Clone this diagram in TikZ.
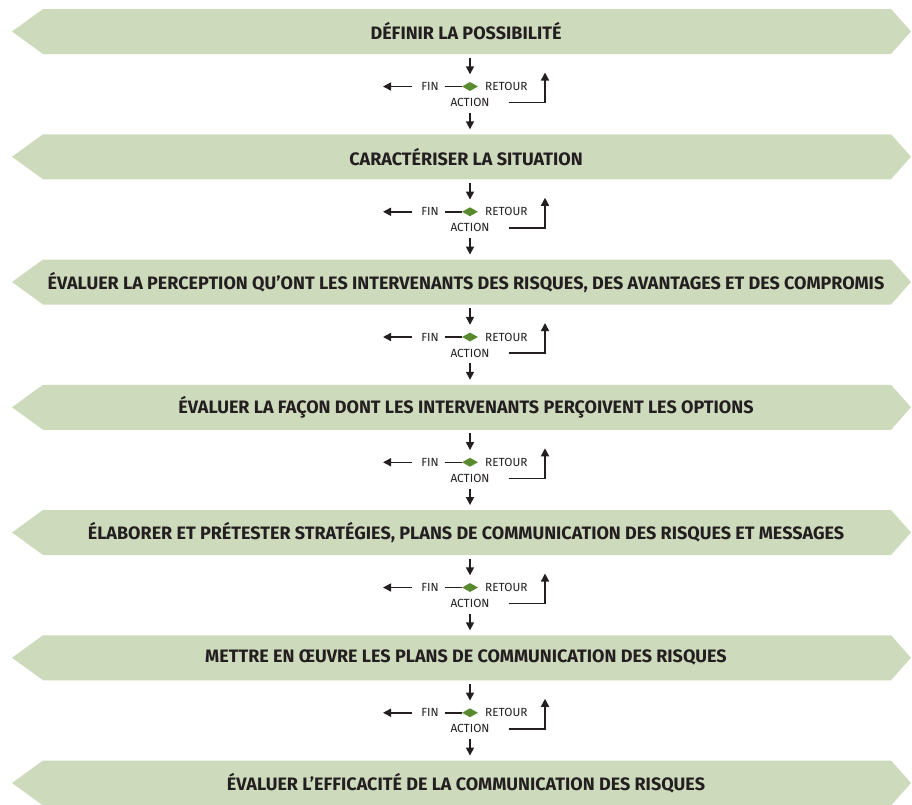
\documentclass[tikz,border=0pt]{standalone}
\usepackage{fontspec}
\setmainfont{Fira Sans}
\usetikzlibrary{arrows.meta,shapes.geometric,calc}
\definecolor{sage}{RGB}{205,218,188}
\definecolor{leaf}{RGB}{90,138,46}
\definecolor{ink}{RGB}{35,31,32}
\begin{document}
\begin{tikzpicture}[x=1pt,y=-1pt,
  banner/.style={fill=sage},
  title/.style={font=\bfseries\fontsize{18}{20}\selectfont, text=ink, inner sep=0pt, minimum height=45pt},
  lbl/.style={font=\fontsize{11.8}{13}\selectfont, text=ink, inner sep=0pt},
  dia/.style={diamond, fill=leaf, inner sep=0pt, minimum width=16pt, minimum height=9pt},
  arr/.style={draw=ink, line width=1.5pt, -{Triangle[length=8pt,width=8pt]}},
  ln/.style={draw=ink, line width=1.5pt}]
\useasboundingbox (0,0) rectangle (912,804);
\foreach \i/\t in {1/{DÉFINIR LA POSSIBILITÉ},
  2/{CARACTÉRISER LA SITUATION},
  3/{ÉVALUER LA PERCEPTION QU’ONT LES INTERVENANTS DES RISQUES, DES AVANTAGES ET DES COMPROMIS},
  4/{ÉVALUER LA FAÇON DONT LES INTERVENANTS PERÇOIVENT LES OPTIONS},
  5/{ÉLABORER ET PRÉTESTER STRATÉGIES, PLANS DE COMMUNICATION DES RISQUES ET MESSAGES},
  6/{METTRE EN ŒUVRE LES PLANS DE COMMUNICATION DES RISQUES},
  7/{ÉVALUER L’EFFICACITÉ DE LA COMMUNICATION DES RISQUES}} {
  \pgfmathsetmacro\c{31.5+125.25*(\i-1)}
  \fill[banner] (12,\c) -- (43,\c-22.5) -- (891,\c-22.5) -- (911,\c) -- (891,\c+22.5) -- (43,\c+22.5) -- cycle;
  \node[title] (b\i) at (466,\c) {\t};
}
\foreach \i in {1,...,6} {
  \pgfmathsetmacro\c{31.5+125.25*(\i-1)}
  \pgfmathtruncatemacro\j{\i+1}
  \node[dia] (d\i) at (470,\c+55) {};
  \node[lbl] (fin\i) at (430,\c+55) {FIN};
  \node[lbl, anchor=west] (ret\i) at (485,\c+55) {RETOUR};
  \node[lbl] (act\i) at (470,\c+71) {ACTION};
  \coordinate (out\i) at (383,\c+55);
  \coordinate (up\i) at (545,\c+41);
  \draw[arr] ($(b\i.south -| d\i)+(0,3.5)$) -- ($(d\i.north)+(0,-7.5)$);
  \draw[arr] ($(fin\i.west)+(-9,0)$) -- (out\i);
  \draw[ln] ($(fin\i.east)+(6,0)$) -- (d\i.west);
  \draw[arr] ($(act\i.east)+(19,0)$) -| (up\i);
  \draw[arr] ($(act\i.south)+(0,6)$) -- ($(b\j.north -| d\i)+(0,-4.75)$);
}
\end{tikzpicture}
\end{document}
